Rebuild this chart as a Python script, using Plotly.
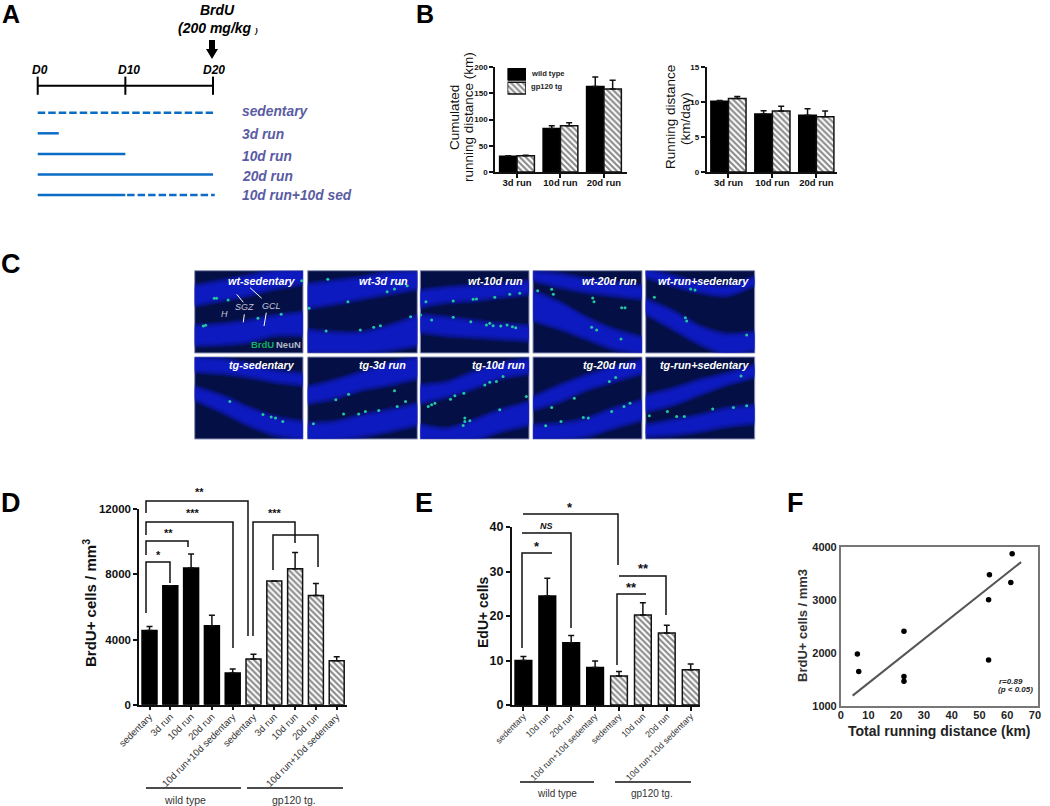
import plotly.graph_objects as go

W, H = 1050, 806
ARIAL = "Liberation Sans, Arial, sans-serif"

# ---------- DATA ----------
sched_rows = ["sedentary", "3d run", "10d run", "20d run", "10d run+10d sed"]
sched_solid_end = [None, 2.4, 10, 20, 10]       # days of running
sched_dash_span = [(0, 20), None, None, None, (10.2, 20.2)]  # days sedentary
day_ticks = [0, 10, 20]
day_labels = ["D0", "D10", "D20"]

b_cats = ["3d run", "10d run", "20d run"]
cum_wt = [30, 83, 163]
cum_wt_err = [1, 5, 18]
cum_tg = [31, 88, 158]
cum_tg_err = [1, 6, 17]
day_wt = [10.1, 8.3, 8.1]
day_wt_err = [0.1, 0.45, 0.95]
day_tg = [10.5, 8.7, 7.9]
day_tg_err = [0.3, 0.7, 0.8]

d_cats = ["sedentary", "3d run", "10d run", "20d run", "10d run+10d sedentary"]
d_wt = [4550, 7300, 8400, 4850, 1950]
d_wt_err = [250, 0, 850, 650, 250]
d_tg = [2800, 7600, 8350, 6700, 2700]
d_tg_err = [300, 0, 1000, 750, 250]

e_cats = ["sedentary", "10d run", "20d run", "10d run+10d sedentary"]
e_wt = [10, 24.5, 14, 8.4]
e_wt_err = [0.9, 4, 1.6, 1.5]
e_tg = [6.5, 20.2, 16.2, 7.9]
e_tg_err = [1, 2.8, 1.7, 1.3]

f_x = [6.0, 6.5, 22.8, 22.8, 22.8, 53.3, 53.6, 53.3, 61.3, 61.8]
f_y = [1981, 1652, 2411, 1557, 1468, 3006, 3475, 1867, 3329, 3873]
f_fit_x = [4.3, 65]
f_fit_y = [1196, 3715]

# micrographs: outline of the two granule-cell bands and BrdU+ spots
img_x = [0, 80, 160, 240, 327]
img_titles = ["wt-sedentary", "wt-3d run", "wt-10d run", "wt-20d run", "wt-run+sedentary",
              "tg-sedentary", "tg-3d run", "tg-10d run", "tg-20d run", "tg-run+sedentary"]
img_upper = [
    ([45, 30, 15, 0, -5], [105, 90, 75, 55, 40]),
    ([40, 30, 20, 5, 0], [113, 100, 85, 70, 55]),
    ([60, 50, 45, 40, 30], [110, 95, 90, 80, 70]),
    ([0, 10, 25, 35, 45], [30, 50, 65, 75, 85]),
    ([-5, 15, 35, 45, 20], [20, 45, 65, 75, 45]),
    ([0, 5, 20, 40, 50], [45, 50, 60, 75, 85]),
    ([90, 70, 45, 20, 0], [140, 125, 100, 85, 65]),
    ([85, 75, 45, 20, 5], [140, 120, 95, 65, 50]),
    ([120, 85, 55, 30, 10], [160, 135, 100, 75, 50]),
    ([115, 95, 70, 50, 25], [165, 145, 115, 85, 60]),
]
img_lower = [
    ([165, 160, 150, 135, 125], [225, 222, 215, 195, 195]),
    ([178, 185, 185, 165, 135], [247, 247, 247, 240, 225]),
    ([133, 140, 150, 160, 165], [185, 195, 200, 205, 210]),
    ([60, 95, 140, 175, 200], [150, 175, 205, 235, 250]),
    ([85, 120, 165, 190, 185], [130, 175, 220, 250, 240]),
    ([90, 115, 150, 180, 195], [130, 165, 205, 235, 250]),
    ([200, 195, 175, 160, 140], [250, 250, 240, 225, 205]),
    ([205, 215, 190, 160, 135], [250, 250, 250, 225, 205]),
    ([205, 200, 185, 155, 130], [250, 250, 240, 215, 190]),
    ([205, 190, 175, 155, 145], [240, 235, 225, 210, 200]),
]
img_spots = [
    [(66, 83), (59, 83), (33, 164), (26, 166), (191, 143), (261, 131), (323, 30), (101, 88)],
    [(60, 26), (120, 93), (4, 113), (55, 181), (157, 178), (197, 170), (217, 165), (307, 138),
     (277, 40), (297, 45), (259, 55), (237, 63)],
    [(17, 93), (99, 91), (159, 86), (169, 85), (224, 80), (269, 71), (299, 68), (1, 133), (34, 148),
     (99, 140), (152, 153), (199, 163), (219, 165), (242, 166), (261, 163), (277, 168), (287, 171), (209, 158)],
    [(56, 56), (14, 60), (61, 71), (179, 82), (183, 93), (266, 111), (276, 111), (176, 170), (191, 178), (264, 205)],
    [(135, 55), (148, 58), (26, 80), (119, 141), (123, 151), (303, 193)],
    [(106, 134), (206, 173), (231, 181), (244, 184), (266, 194)],
    [(84, 129), (122, 112), (259, 102), (292, 134), (267, 149), (212, 161), (172, 164), (152, 172), (107, 172), (17, 201)],
    [(249, 59), (229, 74), (209, 76), (194, 84), (131, 109), (104, 117), (91, 127), (44, 139), (34, 144), (24, 149),
     (319, 119), (239, 159), (149, 192), (134, 194), (129, 206), (134, 184)],
    [(248, 62), (229, 74), (124, 124), (56, 152), (291, 139), (273, 149), (166, 184), (151, 182), (84, 194), (38, 207), (236, 164)],
    [(286, 57), (201, 157), (303, 147), (263, 152), (65, 164), (11, 177), (93, 179), (116, 179)],
]

# ---------- HELPERS ----------
def px(x):
    return x / W

def py(y):
    return 1 - y / H

fig = go.Figure()
annos, shapes = [], []
layout = {}

def ann(x, y, text, size=10, color="#000", anchor="center", bold=False, italic=False, angle=0):
    if bold:
        text = f"<b>{text}</b>"
    if italic:
        text = f"<i>{text}</i>"
    annos.append(dict(x=px(x), y=py(y), xref="paper", yref="paper", text=text, showarrow=False,
                      xanchor=anchor, yanchor="middle", textangle=angle,
                      font=dict(family=ARIAL, size=size, color=color), borderpad=0))

def seg(pts, width=1.5, color="#111"):
    path = "M" + " L".join(f"{px(a):.5f},{py(b):.5f}" for a, b in pts)
    shapes.append(dict(type="path", path=path, xref="paper", yref="paper",
                       line=dict(color=color, width=width)))

def axes(n, x0, x1, ytop, ybot, xa=None, ya=None):
    s = "" if n == 1 else str(n)
    xd = dict(domain=[px(x0), px(x1)], anchor=f"y{s}", showgrid=False, zeroline=False, fixedrange=True, automargin=False)
    yd = dict(domain=[py(ybot), py(ytop)], anchor=f"x{s}", showgrid=False, zeroline=False, fixedrange=True, automargin=False)
    xd.update(xa or {})
    yd.update(ya or {})
    layout[f"xaxis{s}"] = xd
    layout[f"yaxis{s}"] = yd
    return f"x{s}", f"y{s}"

HIDDEN = dict(visible=False)

def bar_axis(vals, labels, rng, size, bold=True, angle=0, color="#111", tlen=4, lw=1.5, shift=-3):
    text = [f"<b>{t}</b>" for t in labels] if bold else labels
    return dict(range=rng, tickmode="array", tickvals=vals, ticktext=text, tickangle=angle, ticks="outside",
                ticklen=tlen, tickwidth=lw, tickcolor="#111", showline=True, linecolor="#111", linewidth=lw,
                ticklabelstandoff=shift,
                tickfont=dict(family=ARIAL, size=size, color=color))

def val_axis(rng, vals, size, lw=1.5, tlen=4):
    return dict(range=rng, tickmode="array", tickvals=vals, ticktext=[f"<b>{v}</b>" for v in vals], ticks="outside",
                ticklen=tlen, tickwidth=lw, tickcolor="#111", showline=True, linecolor="#111", linewidth=lw,
                tickfont=dict(family=ARIAL, size=size, color="#111"))

def hatch_marker(lw):
    return dict(color="white", line=dict(color="#111", width=lw),
                pattern=dict(shape="\\", size=4.2, solidity=0.5, fgcolor="#111", bgcolor="white"))

def bars(x, y, err, xa, ya, name, hatch, width, lw=1.5, ew=3):
    marker = hatch_marker(lw) if hatch else dict(color="#000", line=dict(color="#000", width=lw))
    tr = dict(x=x, y=y, xaxis=xa, yaxis=ya, name=name, marker=marker, width=width, showlegend=False)
    if err is not None:
        tr["error_y"] = dict(type="data", symmetric=False, array=err, arrayminus=[0] * len(err),
                             color="#111", thickness=1.5, width=ew)
    fig.add_trace(go.Bar(**tr))

# ---------- PANEL LETTERS ----------
for letter, lx, ly, ls in [("A", 11, 14.5, 25), ("B", 425, 14.5, 25), ("C", 11, 264, 27),
                           ("D", 11, 503, 27), ("E", 424, 503, 27), ("F", 795, 503, 27)]:
    ann(lx, ly, letter, size=ls, bold=True)

# ---------- PANEL A ----------
xa, ya = axes(1, 30, 220, 75, 205,
              dict(range=[-0.88, 20.8], **HIDDEN), dict(range=[4.48, -1.83], **HIDDEN))
TIMELINE_ROW = -1.31
fig.add_trace(go.Scatter(x=[day_ticks[0], day_ticks[-1]], y=[TIMELINE_ROW] * 2, mode="lines", xaxis=xa, yaxis=ya,
                         line=dict(color="#000", width=2), showlegend=False, name="timeline"))
fig.add_trace(go.Scatter(x=day_ticks, y=[TIMELINE_ROW] * 3, mode="markers", xaxis=xa, yaxis=ya, showlegend=False,
                         name="days", marker=dict(symbol="line-ns", size=13, line=dict(color="#000", width=2))))
BLUE = "#0a6cc4"
for i, row in enumerate(sched_rows):
    if sched_solid_end[i] is not None:
        fig.add_trace(go.Scatter(x=[0, sched_solid_end[i]], y=[i, i], mode="lines", xaxis=xa, yaxis=ya, name=row,
                                 line=dict(color=BLUE, width=2.5), showlegend=False))
    if sched_dash_span[i] is not None:
        fig.add_trace(go.Scatter(x=list(sched_dash_span[i]), y=[i, i], mode="lines", xaxis=xa, yaxis=ya, name=row,
                                 line=dict(color=BLUE, width=2.5, dash="7.5px,3px"), showlegend=False))
for lab, lx in zip(day_labels, [40, 128.7, 214]):
    ann(lx, 70, lab, size=12, bold=True, italic=True)
ann(217, 10, "BrdU", size=14, bold=True, italic=True)
ann(252.5, 28, "(200 mg/kg", size=14, anchor="right", bold=True, italic=True)
ann(252.5, 30, ")", size=8, anchor="left", bold=True, italic=True)
shapes.append(dict(type="path", xref="paper", yref="paper", fillcolor="#000", line=dict(width=0),
                   path="M" + " L".join(f"{px(a):.5f},{py(b):.5f}" for a, b in
                                        [(209, 40), (215, 40), (215, 49), (218, 49), (212, 59), (206, 49), (209, 49)]) + " Z"))
for lab, ly in zip(sched_rows, [112, 134, 156, 176, 195]):
    ann(240.5, ly, lab, size=13.8, color="#5a5ca3", anchor="left", bold=True, italic=True)

# ---------- PANEL B ----------
xa, ya = axes(2, 495, 627, 67, 172,
              bar_axis([0, 1, 2], b_cats, [-0.506, 2.53], 9.5),
              val_axis([0, 200], [0, 50, 100, 150, 200], 8))
bars([0, 1, 2], cum_wt, cum_wt_err, xa, ya, "wild type", False, 0.4)
bars([0, 1, 2], cum_tg, cum_tg_err, xa, ya, "gp120 tg", True, 0.4)
ann(455, 118, "Cumulated", size=13.5, angle=-90, color="#111")
ann(469, 117, "running distance (km)", size=13.5, angle=-90, color="#111")
xa, ya = axes(3, 706.5, 837, 67, 172,
              bar_axis([0, 1, 2], b_cats, [-0.5, 2.47], 9.5),
              val_axis([0, 15], [0, 5, 10, 15], 8))
bars([0, 1, 2], day_wt, day_wt_err, xa, ya, "wild type", False, 0.4)
bars([0, 1, 2], day_tg, day_tg_err, xa, ya, "gp120 tg", True, 0.4)
ann(671, 117, "Running distance", size=13.5, angle=-90, color="#111")
ann(685, 119, "(km/day)", size=13.5, angle=-90, color="#111")

# legend built as a small inset of swatch bars
xa, ya = axes(4, 507.5, 526, 67.5, 95, dict(range=[0, 1], **HIDDEN), dict(range=[1.5, -0.5], **HIDDEN))
fig.add_trace(go.Bar(x=[1], y=[0], orientation="h", xaxis=xa, yaxis=ya, width=0.85, name="wild type", showlegend=False,
                     marker=dict(color="#000", line=dict(color="#000", width=1))))
fig.add_trace(go.Bar(x=[1], y=[1], orientation="h", xaxis=xa, yaxis=ya, width=0.85, name="gp120 tg", showlegend=False,
                     marker=hatch_marker(1.5)))
ann(530, 74, "wild type", size=7.6, anchor="left", bold=True, color="#222")
ann(530, 87, "gp120 tg", size=7.6, anchor="left", bold=True, color="#222")

# ---------- PANEL C ----------
cols = [(194.7, 303), (307.7, 417.3), (420.3, 529), (533, 642), (645.7, 754.7)]
rows = [(270.7, 353), (357, 439)]
title_right = [297, 409, 524, 638, 749.5, 295.5, 407, 526, 637, 749.5]
for k in range(10):
    c0, c1 = cols[k % 5]
    r0, r1 = rows[k // 5]
    xa, ya = axes(5 + k, c0, c1, r0, r1,
                  dict(range=[0, 327], **HIDDEN), dict(range=[247, 0], **HIDDEN))
    shapes.append(dict(type="rect", xref="paper", yref="paper", x0=px(c0), x1=px(c1), y0=py(r1), y1=py(r0),
                       fillcolor="#030f45", line=dict(color="#8d93b8", width=1), layer="below"))
    sx = [-60] + img_x + [387]
    for tops, bots in (img_upper[k], img_lower[k]):
        t = [tops[0] + (tops[0] - tops[1]) * 0.75] + tops + [tops[-1] + (tops[-1] - tops[-2]) * 0.75]
        b = [bots[0] + (bots[0] - bots[1]) * 0.75] + bots + [bots[-1] + (bots[-1] - bots[-2]) * 0.75]
        for grow, op in ((8, 0.28), (3, 0.35), (-3, 0.42), (-9, 0.45)):
            fig.add_trace(go.Scatter(
                x=sx + sx[::-1],
                y=[v - grow for v in t] + [v + grow for v in b[::-1]],
                mode="lines", fill="toself", xaxis=xa, yaxis=ya, showlegend=False, hoverinfo="skip",
                name="granule cell layer",
                line=dict(width=0, shape="spline", smoothing=0.8),
                fillcolor=f"rgba(16,28,215,{op})"))
    sp = img_spots[k]
    fig.add_trace(go.Scatter(x=[p[0] for p in sp], y=[p[1] for p in sp], mode="markers", xaxis=xa, yaxis=ya,
                             showlegend=False, name="BrdU+",
                             marker=dict(size=3, color="#22c9a0", line=dict(width=0))))
    ann(title_right[k], 280.6 if k < 5 else 365, img_titles[k], size=10.8, color="white",
        anchor="right", bold=True, italic=True)
ann(224, 314, "H", size=9, color="#c8c8d8", italic=True)
ann(244, 307, "SGZ", size=9, color="#c8c8d8", italic=True)
ann(271, 306, "GCL", size=9, color="#c8c8d8", italic=True)
for a, b in [((236.7, 294.3), (243.3, 302.3)), ((250, 287.7), (261.7, 298.3)),
             ((244.3, 314.3), (243.3, 322.3)), ((266.3, 312.7), (264, 326))]:
    seg([a, b], width=1, color="white")
ann(274.5, 344.7, "BrdU", size=9.5, color="#12b060", anchor="right", bold=True)
ann(274.5, 344.7, "NeuN", size=9.5, color="#b0b8c8", anchor="left", bold=True)

# ---------- PANEL D ----------
idx_d = list(range(10))
xa, ya = axes(15, 139, 347, 509.3, 704.7,
              bar_axis(idx_d, d_cats + d_cats, [-0.505, 9.495], 9.6, bold=False, angle=-45, color="#333"),
              val_axis([0, 12000], [0, 4000, 8000, 12000], 11.5))
bars(idx_d[:5], d_wt, d_wt_err, xa, ya, "wild type", False, 0.72)
bars(idx_d[5:], d_tg, d_tg_err, xa, ya, "gp120 tg.", True, 0.72)
ann(89, 603, "BrdU+ cells / mm<sup>3</sup>", size=15, angle=-90, bold=True, color="#111")
seg([(146, 513), (146, 501), (248, 501), (248, 636)])
seg([(146, 535), (146, 522), (233, 522), (233, 648)])
seg([(146, 555), (146, 541), (188, 541), (188, 547)])
seg([(146, 613), (146, 562), (170, 562), (170, 583)])
seg([(253, 636), (253, 522), (295, 522), (295, 543)])
seg([(273, 570), (273, 535), (318, 535), (318, 567)])
for sx_, sy_, s in [(199, 492, "**"), (193, 513, "***"), (168, 533, "**"), (158, 555, "*"), (275, 513, "***")]:
    ann(sx_, sy_, s, size=11, bold=True, color="#111")
seg([(146, 788), (241, 788)])
seg([(247, 788), (343, 788)])
ann(185, 800, "wild type", size=10.5, color="#333")
ann(294, 800, "gp120 tg.", size=10.5, color="#333")

# ---------- PANEL E ----------
idx_e = list(range(8))
xa, ya = axes(16, 511.7, 700, 527, 705,
              bar_axis(idx_e, e_cats + e_cats, [-0.49, 7.39], 8.8, bold=False, angle=-45, color="#333"),
              val_axis([0, 40], [0, 10, 20, 30, 40], 12.5))
bars(idx_e[:4], e_wt, e_wt_err, xa, ya, "wild type", False, 0.7)
bars(idx_e[4:], e_tg, e_tg_err, xa, ya, "gp120 tg.", True, 0.7)
ann(483, 613, "EdU+ cells", size=14, angle=-90, bold=True, color="#111")
seg([(523, 514), (618, 514), (618, 565)])
seg([(522, 533), (571, 533), (571, 628)])
seg([(522, 648), (522, 553), (552, 553)])
seg([(617, 665), (617, 594), (646, 594)])
seg([(619, 576), (666, 576), (666, 615)])
for sx_, sy_, s in [(570, 507, "*"), (537, 546, "*"), (643, 568, "**"), (631, 587, "**")]:
    ann(sx_, sy_, s, size=13, bold=True, color="#111")
ann(546, 526, "NS", size=9, bold=True, italic=True, color="#111")
seg([(520, 782), (594, 782)])
seg([(615, 782), (691, 782)])
ann(557, 793, "wild type", size=10, color="#333")
ann(652, 793, "gp120 tg.", size=10, color="#333")

# ---------- PANEL F ----------
def f_axis(rng, vals, shift):
    return dict(range=rng, tickmode="array", tickvals=vals, ticktext=[f"<b>{v}</b>" for v in vals], ticks="",
                showline=True, mirror=True, linecolor="#777", linewidth=1.5, ticklabelstandoff=shift,
                tickfont=dict(family=ARIAL, size=11, color="#222"))

xa, ya = axes(17, 840.7, 1037.7, 547, 706,
              f_axis([0, 71], [0, 10, 20, 30, 40, 50, 60, 70], -2),
              f_axis([1000, 4000], [1000, 2000, 3000, 4000], 0))
fig.add_trace(go.Scatter(x=f_fit_x, y=f_fit_y, mode="lines", xaxis=xa, yaxis=ya, name="fit", showlegend=False,
                         line=dict(color="#555", width=2)))
fig.add_trace(go.Scatter(x=f_x, y=f_y, mode="markers", xaxis=xa, yaxis=ya, name="samples", showlegend=False,
                         marker=dict(color="#000", size=5.5)))
ann(802, 626, "BrdU+ cells / mm3", size=13, angle=-90, bold=True, color="#333")
ann(939, 731, "Total running distance (km)", size=14, bold=True, color="#222")
ann(998, 681, "r=0.89", size=8, bold=True, italic=True, color="#222", anchor="left")
ann(997, 689.5, "(p &lt; 0.05)", size=8, bold=True, italic=True, color="#222", anchor="left")

fig.update_layout(width=W, height=H, margin=dict(l=0, r=0, t=0, b=0, autoexpand=False), paper_bgcolor="white", plot_bgcolor="rgba(0,0,0,0)",
                  barmode="group", bargap=0.2, bargroupgap=0, showlegend=False, annotations=annos, shapes=shapes, **layout)
fig.write_html("out.html", config={"displayModeBar": False},
               post_script="document.body.style.margin='0';document.body.style.overflow='hidden';")
